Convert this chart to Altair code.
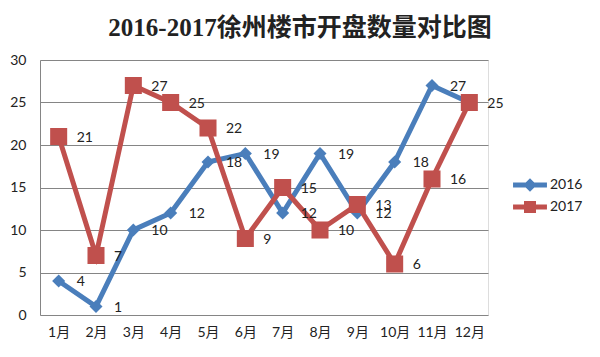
import altair as alt
import pandas as pd

months = ["1月", "2月", "3月", "4月", "5月", "6月", "7月", "8月", "9月", "10月", "11月", "12月"]
v2016 = [4, 1, 10, 12, 18, 19, 12, 19, 12, 18, 27, 25]
v2017 = [21, 7, 27, 25, 22, 9, 15, 10, 13, 6, 16, 25]
# 2016's December label is hidden under the 2017 marker in the reference
show2016 = [True] * 11 + [False]
show2017 = [True] * 12
series = ["2016", "2017"]
colors = ["#4a7ebb", "#c0504d"]

rows = []
for s, vals, shows in zip(series, [v2016, v2017], [show2016, show2017]):
    for m, v, sh in zip(months, vals, shows):
        rows.append({"month": m, "value": v, "series": s, "show": sh})
df = pd.DataFrame(rows)

FONT = "Lato, Noto Sans CJK SC, sans-serif"

x = alt.X("month:N", sort=months, title=None,
          scale=alt.Scale(paddingInner=0, paddingOuter=0),
          axis=alt.Axis(labelAngle=0, ticks=False, domain=False, grid=False,
                        labelPadding=10, labelFontSize=14, labelColor="#222",
                        labelFont=FONT))
y = alt.Y("value:Q", title=None,
          scale=alt.Scale(domain=[0, 30], nice=False),
          axis=alt.Axis(values=[0, 5, 10, 15, 20, 25, 30], ticks=False,
                        domain=True, domainColor="#858585", gridColor="#858585",
                        gridWidth=1, labelPadding=14, labelFontSize=14,
                        labelColor="#222", labelFont=FONT))

base = alt.Chart(df)

layers = []
shapes = ["diamond", "square"]
sizes = [170, 290]
for s, c, sh, sz in zip(series, colors, shapes, sizes):
    sub = base.transform_filter(alt.datum.series == s)
    layers.append(sub.mark_line(strokeWidth=5, color=c).encode(x=x, y=y))
    layers.append(sub.mark_point(filled=True, opacity=1, shape=sh, size=sz, color=c)
                  .encode(x=x, y=y))

for s in series:
    sub = base.transform_filter((alt.datum.series == s) & alt.datum.show)
    layers.append(sub.mark_text(align="left", baseline="middle", dx=18, dy=1,
                                fontSize=14, color="#222", font=FONT)
                  .encode(x=x, y=y, text="value:Q"))

diamond_line = ("M-1.13,-0.17 L1.13,-0.17 L1.13,0.17 L-1.13,0.17 Z "
                "M0,-0.45 L0.45,0 L0,0.45 L-0.45,0 Z")
square_line = ("M-1.13,-0.17 L1.13,-0.17 L1.13,0.17 L-1.13,0.17 Z "
               "M-0.4,-0.4 L0.4,-0.4 L0.4,0.4 L-0.4,0.4 Z")

leg = alt.Legend(title=None, orient="none", legendX=475, legendY=110,
                 symbolSize=900, symbolOpacity=1, symbolStrokeWidth=0,
                 labelFontSize=14, labelColor="#222", labelFont=FONT,
                 labelOffset=5, rowPadding=0, padding=0)
legend_layer = base.mark_point(filled=True, opacity=0, size=900).encode(
    x=x, y=y,
    color=alt.Color("series:N", scale=alt.Scale(domain=series, range=colors), legend=leg),
    shape=alt.Shape("series:N", scale=alt.Scale(domain=series, range=[diamond_line, square_line]),
                    legend=leg),
)
layers.append(legend_layer)

chart = alt.layer(*layers).properties(
    width=448, height=255,
    autosize=alt.AutoSizeParams(type="none"),
    padding={"left": 32, "top": 52, "right": 104, "bottom": 34},
    title=alt.TitleParams("2016-2017徐州楼市开盘数量对比图",
                          font="Liberation Serif, Noto Sans CJK SC, serif",
                          fontSize=25, fontWeight="bold", color="#222",
                          anchor="middle", dx=36, offset=12),
).configure_view(stroke=None).configure(background="white")

chart.save("out.html", embed_options={"renderer": "svg", "actions": False})
